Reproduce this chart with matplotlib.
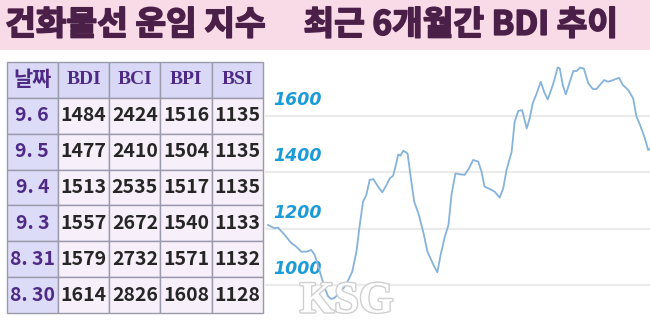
import matplotlib.pyplot as plt
import matplotlib.patheffects as pe
from matplotlib.patches import Rectangle

# 표 데이터
col_labels = ['날짜', 'BDI', 'BCI', 'BPI', 'BSI']
dates = ['9. 6', '9. 5', '9. 4', '9. 3', '8. 31', '8. 30']
bdi = [1484, 1477, 1513, 1557, 1579, 1614]
bci = [2424, 2410, 2535, 2672, 2732, 2826]
bpi = [1516, 1504, 1517, 1540, 1571, 1608]
bsi = [1135, 1135, 1135, 1133, 1132, 1128]

# 최근 6개월 BDI 추이
trend_day = [0, 2.2, 3.3, 5.5, 7.8, 9.4, 11.1, 12.8, 14.4, 15.5, 16.6, 17.7, 18.9, 20, 21, 22,
             24, 25.5, 27, 28, 29.4, 30.5, 31.6, 32.7, 33.8, 35, 36.6, 38, 39.4, 40.5, 41.6,
             42.5, 43.3, 44, 45, 46.4, 47.5, 48.6, 50, 51.6, 53, 55, 56.3, 57.4, 58.8, 60, 61,
             62.3, 63.8, 65.4, 66.8, 68.2, 69.9, 71, 72, 73.7, 75.4, 77, 78.2, 79.3, 81, 82,
             83.2, 84.5, 86, 87, 88, 89.3, 90.7, 91.8, 93, 94.3, 95.2, 96.3, 97, 98, 99, 100,
             101.5, 102.6, 103.7, 105, 106.5, 108, 109.2, 110.3, 111.8, 113, 114.8, 116.7, 118,
             119.8, 121.4, 122.5, 123.7, 125.3, 126.4, 127]
trend_bdi = [1213, 1201, 1204, 1178, 1148, 1136, 1118, 1118, 1124, 1107, 1071, 1030, 988, 959,
             950, 953, 974, 994, 1024, 1047, 1118, 1213, 1296, 1320, 1373, 1376, 1349, 1329,
             1355, 1379, 1388, 1426, 1464, 1459, 1477, 1467, 1379, 1296, 1254, 1189, 1118, 1071,
             1045, 1107, 1172, 1213, 1320, 1396, 1393, 1391, 1414, 1444, 1438, 1402, 1349, 1341,
             1331, 1310, 1343, 1408, 1473, 1580, 1618, 1621, 1556, 1592, 1645, 1680, 1722, 1686,
             1659, 1698, 1728, 1773, 1769, 1710, 1677, 1710, 1760, 1760, 1772, 1769, 1716, 1696,
             1696, 1710, 1728, 1722, 1728, 1736, 1710, 1692, 1663, 1598, 1568, 1521, 1479, 1484]
y_ticks = [1000, 1200, 1400, 1600]

title = '건화물선 운임 지수     최근 6개월간 BDI 추이'

fig = plt.figure(figsize=(6.5, 3.24), dpi=100)
fig.patch.set_facecolor('white')

# 상단 제목 띠
fig.patches.append(Rectangle((0, 274 / 324), 1, 50 / 324, transform=fig.transFigure,
                             facecolor='#f9dbe8', edgecolor='none', zorder=0))
fig.text(0.008, 0.922, title, fontsize=24, fontweight='black', color='#4a1f48',
         family=['Noto Sans CJK KR', 'DejaVu Sans'], va='center', ha='left',
         path_effects=[pe.withStroke(linewidth=1.2, foreground='#4a1f48')])

# ---------------- 표 ----------------
ax_t = fig.add_axes([6.7 / 650, 11 / 324, 256.3 / 650, 251 / 324])
ax_t.axis('off')
rows = [[d, str(a), str(b), str(c), str(e)] for d, a, b, c, e in zip(dates, bdi, bci, bpi, bsi)]
tbl = ax_t.table(cellText=rows, colLabels=col_labels, bbox=[0, 0, 1, 1], cellLoc='center')
tbl.auto_set_font_size(False)
for (r, c), cell in tbl.get_celld().items():
    cell.set_edgecolor('#9a9aac')
    cell.set_linewidth(1.0)
    cell.PAD = 0.03
    txt = cell.get_text()
    if r == 0:
        cell.set_facecolor('#d9d9f7')
        if c == 0:
            txt.set_fontproperties({'family': 'Noto Sans CJK KR', 'weight': 'bold', 'size': 15})
        else:
            txt.set_fontproperties({'family': 'Liberation Serif', 'weight': 'bold', 'size': 14})
        txt.set_color('#4e2a86')
    elif c == 0:
        cell.set_facecolor('#dcdcf8')
        txt.set_fontproperties({'family': 'Noto Sans CJK KR', 'weight': 'bold', 'size': 14})
        txt.set_color('#4e2a86')
    else:
        cell.set_facecolor('#f7effa')
        txt.set_fontproperties({'family': 'Noto Sans CJK KR', 'weight': 'bold', 'size': 14})
        txt.set_color('#262626')

# ---------------- 추이 그래프 ----------------
ax = fig.add_axes([265 / 650, 0, 385 / 650, 269 / 324])
ax.set_xlim(-1, 127)
ax.set_ylim(861, 1817)
for v in y_ticks:
    ax.axhline(v, color='#ebebeb', linewidth=1.6, zorder=1)
    ax.annotate(str(v), xy=(0.022, v), xycoords=('axes fraction', 'data'),
                xytext=(0, 5), textcoords='offset points', fontsize=12.5,
                fontweight='bold', fontstyle='italic', color='#1c9bd8',
                family='DejaVu Sans', ha='left', va='bottom')
ax.plot(trend_day, trend_bdi, color='#86b3db', linewidth=1.3, zorder=3)
ax.axis('off')

# 워터마크
ax.text(0.09, 0.01, 'KSG', transform=ax.transAxes, fontsize=32, fontweight='bold',
        family='Liberation Serif', color='white', ha='left', va='bottom', zorder=4,
        path_effects=[pe.withStroke(linewidth=2, foreground='#cfcfcf')])

fig.savefig('out.png', dpi=100)
